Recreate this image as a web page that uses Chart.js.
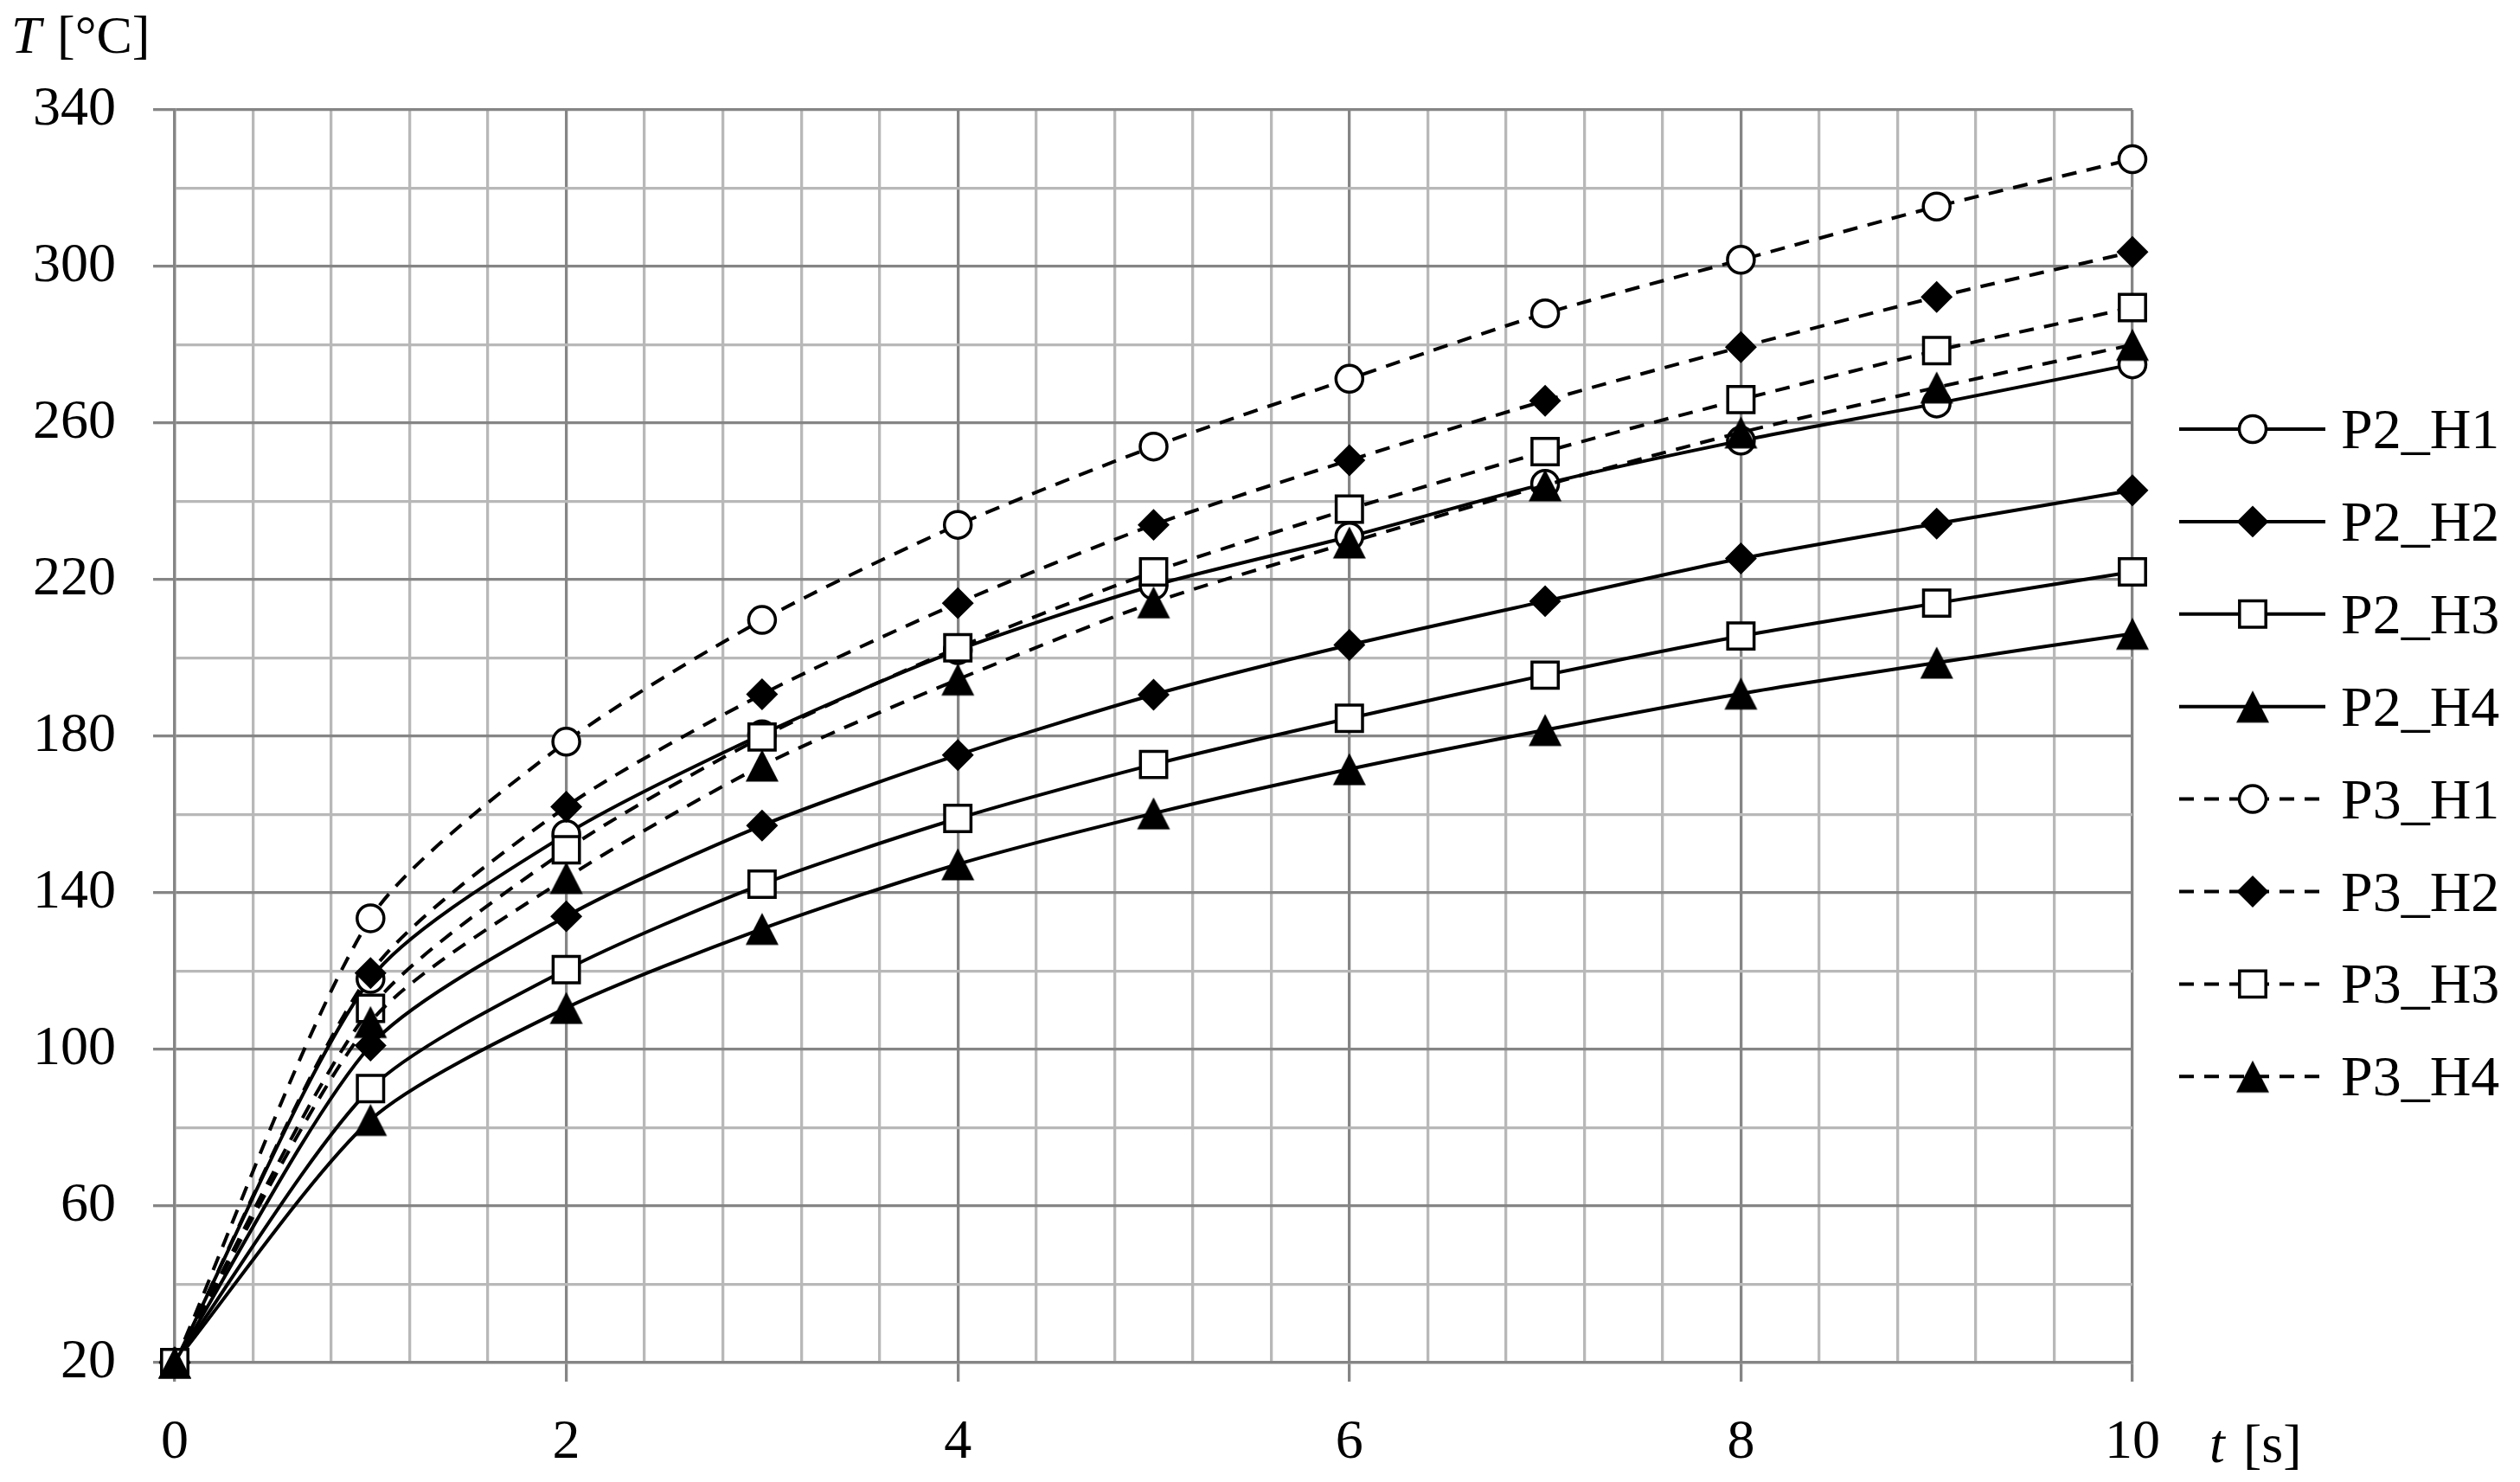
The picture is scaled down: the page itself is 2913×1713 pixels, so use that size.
<!DOCTYPE html>
<html><head><meta charset="utf-8">
<script src="https://cdn.jsdelivr.net/npm/chart.js@4.4.1/dist/chart.umd.min.js"></script>
<style>html,body{margin:0;padding:0;background:#fff;} #wrap{width:2913px;height:1713px;}</style>
</head><body><div id="wrap"><canvas id="c" width="2913" height="1713"></canvas></div>
<script>
// ---- data ----
const times = [0, 1, 2, 3, 4, 5, 6, 7, 8, 9, 10];
const seriesNames = ['P2_H1', 'P2_H2', 'P2_H3', 'P2_H4', 'P3_H1', 'P3_H2', 'P3_H3', 'P3_H4'];
const P2_H1 = [20, 118, 155, 180.5, 202, 218.5, 231, 244.5, 255.5, 265, 275];
const P2_H2 = [20, 101, 134, 157.2, 175.2, 190.6, 203.3, 214.5, 225.4, 234.3, 242.8];
const P2_H3 = [20, 90, 120.4, 142.2, 159, 172.8, 184.6, 195.6, 205.6, 214, 222];
const P2_H4 = [20, 82, 110.6, 130.8, 147.3, 160.3, 171.6, 181.6, 190.9, 198.8, 206.2];
const P3_H1 = [20, 133.5, 178.6, 209.7, 234, 254, 271.3, 288, 301.7, 315.3, 327.4];
const P3_H2 = [20, 119.5, 162, 190.7, 214, 234, 250.5, 265.7, 279.4, 292.2, 303.7];
const P3_H3 = [20, 110.5, 151, 179.8, 202.6, 222, 238, 252.7, 266, 278.5, 289.5];
const P3_H4 = [20, 107, 143.8, 172.5, 194.5, 214.2, 229.5, 244.1, 257.6, 269.1, 280];
const seriesValues = [P2_H1, P2_H2, P2_H3, P2_H4, P3_H1, P3_H2, P3_H3, P3_H4];
const xTickLabels = [0, 2, 4, 6, 8, 10];
const yTickLabels = [20, 60, 100, 140, 180, 220, 260, 300, 340];

// ---- styles ----
const FONT = '"Liberation Serif", "Times New Roman", serif';
const MAJOR = '#858585', MINOR = '#b8b8b8';

function makeTriangle() {
  const c = document.createElement('canvas');
  c.width = 42; c.height = 42;
  const g = c.getContext('2d');
  g.fillStyle = '#000';
  g.beginPath();
  g.moveTo(21, 2.5); g.lineTo(40, 39.5); g.lineTo(2, 39.5); g.closePath();
  g.fill();
  return c;
}
const tri = makeTriangle();
const markerStyles = [
  { pointStyle: 'circle', pointRadius: 15.5, pointBackgroundColor: '#fff' },
  { pointStyle: 'rectRot', pointRadius: 16, pointBackgroundColor: '#000' },
  { pointStyle: 'rect', pointRadius: 21.5, pointBackgroundColor: '#fff' },
  { pointStyle: tri, pointRadius: 20, pointBackgroundColor: '#000' }
];

const datasets = seriesNames.map((name, i) => {
  const m = markerStyles[i % 4];
  return Object.assign({
    label: name,
    data: times.map((t, j) => ({ x: t, y: seriesValues[i][j] })),
    borderColor: '#000',
    borderWidth: 4,
    borderDash: i >= 4 ? [17, 12] : [],
    tension: 0.25,
    pointBorderColor: '#000',
    pointBorderWidth: 3.5,
    pointHoverRadius: m.pointRadius,
    fill: false,
    clip: false,
    order: 7 - i
  }, m);
});

const isIn = (arr, v) => arr.some(a => Math.abs(a - v) < 1e-6);

const legendPlugin = {
  id: 'customLegend',
  afterDraw(chart) {
    const ctx = chart.ctx;
    const x0 = chart.chartArea.right + 54;
    chart.data.datasets.forEach((d, i) => {
      const y = 496 + i * 106.9;
      ctx.save();
      ctx.strokeStyle = '#000';
      ctx.lineWidth = 4;
      ctx.setLineDash(d.borderDash || []);
      ctx.beginPath(); ctx.moveTo(x0, y); ctx.lineTo(x0 + 169, y); ctx.stroke();
      ctx.setLineDash([]);
      const cx = x0 + 85;
      if (typeof d.pointStyle === 'object') {
        ctx.drawImage(d.pointStyle, cx - d.pointStyle.width / 2, y - d.pointStyle.height / 2);
      } else {
        ctx.fillStyle = d.pointBackgroundColor;
        ctx.strokeStyle = d.pointBorderColor;
        ctx.lineWidth = d.pointBorderWidth;
        Chart.helpers.drawPoint(ctx, { pointStyle: d.pointStyle, radius: d.pointRadius, borderWidth: d.pointBorderWidth, rotation: 0 }, cx, y);
      }
      ctx.fillStyle = '#000';
      ctx.font = '66px ' + FONT;
      ctx.textBaseline = 'alphabetic';
      ctx.textAlign = 'left';
      ctx.fillText(d.label, x0 + 187, y + 22);
      ctx.restore();
    });
  }
};

const titlesPlugin = {
  id: 'axisTitles',
  afterDraw(chart) {
    const ctx = chart.ctx;
    ctx.save();
    ctx.fillStyle = '#000';
    ctx.textBaseline = 'alphabetic';
    ctx.textAlign = 'left';
    ctx.font = 'italic 62px ' + FONT;
    ctx.fillText('T', 13, 61);
    ctx.font = '62px ' + FONT;
    ctx.fillText('[°C]', 66, 61);
    const xr = chart.chartArea.right;
    ctx.font = 'italic 64px ' + FONT;
    ctx.fillText('t', xr + 89, 1690);
    ctx.font = '64px ' + FONT;
    ctx.fillText('[s]', xr + 128, 1690);
    ctx.restore();
  }
};

new Chart(document.getElementById('c'), {
  type: 'line',
  data: { datasets },
  options: {
    responsive: false,
    devicePixelRatio: 1,
    animation: false,
    events: [],
    layout: { padding: { top: 127, left: 0, right: 448, bottom: 0 } },
    plugins: { legend: { display: false }, tooltip: { enabled: false } },
    scales: {
      x: {
        type: 'linear', min: 0, max: 10,
        afterFit(s) { s.height = 138; },
        ticks: {
          stepSize: 0.4, autoSkip: false, maxRotation: 0, padding: 33,
          color: '#000', font: { family: FONT, size: 64 },
          callback: v => isIn(xTickLabels, v) ? String(Math.round(v)) : ''
        },
        grid: {
          color: c => isIn(xTickLabels, c.tick.value) ? MAJOR : MINOR,
          tickColor: c => isIn(xTickLabels, c.tick.value) ? MAJOR : 'rgba(0,0,0,0)',
          lineWidth: 3.3, tickLength: 22
        },
        border: { display: true, color: MAJOR, width: 3.3 }
      },
      y: {
        type: 'linear', min: 20, max: 340,
        afterFit(s) { s.width = 202; },
        ticks: {
          stepSize: 20, autoSkip: false, padding: 43,
          color: '#000', font: { family: FONT, size: 64 },
          callback: v => isIn(yTickLabels, v) ? String(Math.round(v)) : ''
        },
        grid: {
          color: c => isIn(yTickLabels, c.tick.value) ? MAJOR : MINOR,
          tickColor: c => isIn(yTickLabels, c.tick.value) ? MAJOR : 'rgba(0,0,0,0)',
          lineWidth: 3.3, tickLength: 25
        },
        border: { display: true, color: MAJOR, width: 3.3 }
      }
    }
  },
  plugins: [legendPlugin, titlesPlugin]
});
</script></body></html>
